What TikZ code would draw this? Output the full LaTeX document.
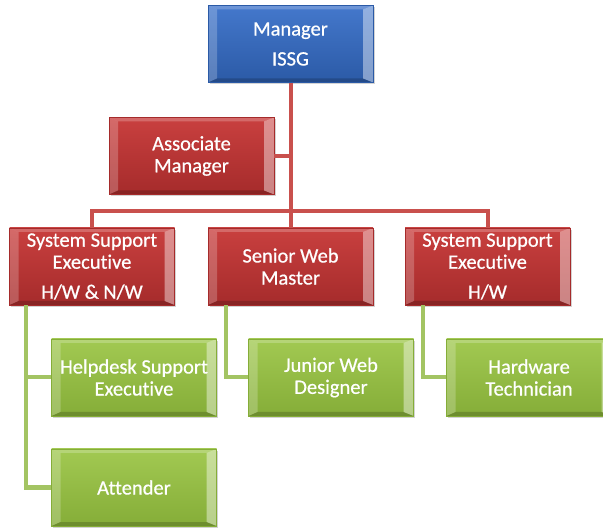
\documentclass[tikz,border=0pt]{standalone}
\usepackage{fontspec}
\setmainfont{Carlito}
\newfontfamily\boxfont[FakeBold=0.6,Ligatures={NoCommon}]{Carlito}
\usetikzlibrary{shadows,calc}
\definecolor{bluetop}{HTML}{4478CC}
\definecolor{bluebot}{HTML}{2B5AA6}
\definecolor{redtop}{HTML}{C9403F}
\definecolor{redbot}{HTML}{A52B2B}
\definecolor{greentop}{HTML}{A2C952}
\definecolor{greenbot}{HTML}{85AD38}
\definecolor{redline}{HTML}{C9504D}
\definecolor{greenline}{HTML}{A3C463}
\tikzset{
  bevel/.style={
    path picture={
      \path (path picture bounding box.north west) coordinate (pNW)
            (path picture bounding box.north east) coordinate (pNE)
            (path picture bounding box.south west) coordinate (pSW)
            (path picture bounding box.south east) coordinate (pSE);
      \fill[white,opacity=.22] (pNW) -- (pNE) -- ([xshift=-10pt,yshift=-4pt]pNE) -- ([xshift=9pt,yshift=-4pt]pNW) -- cycle;
      \fill[white,opacity=.22] (pNW) -- ([xshift=9pt,yshift=-4pt]pNW) -- ([xshift=9pt,yshift=4pt]pSW) -- (pSW) -- cycle;
      \fill[white,opacity=.42] (pNE) -- ([xshift=-10pt,yshift=-4pt]pNE) -- ([xshift=-10pt,yshift=4pt]pSE) -- (pSE) -- cycle;
      \fill[black,opacity=.18] (pSW) -- ([xshift=9pt,yshift=4pt]pSW) -- ([xshift=-10pt,yshift=4pt]pSE) -- (pSE) -- cycle;
    }},
  orgbox/.style={rectangle, minimum width=165pt, minimum height=77pt, inner sep=0pt,
    text=white, align=center, font=\boxfont\fontsize{20.5}{22}\selectfont,
    drop shadow={shadow xshift=1.5pt, shadow yshift=-2pt, opacity=.35}, bevel},
  bluebox/.style={orgbox, top color=bluetop, bottom color=bluebot, draw=bluebot, line width=.3pt},
  redbox/.style={orgbox, top color=redtop, bottom color=redbot, draw=redbot, line width=.3pt},
  greenbox/.style={orgbox, top color=greentop, bottom color=greenbot, draw=greenbot, line width=.3pt},
  redconn/.style={draw=redline, line width=4pt},
  greenconn/.style={draw=greenline, line width=4pt},
}
\begin{document}
\begin{tikzpicture}[x=1pt,y=-1pt]
\useasboundingbox (0,0) rectangle (603,529);
\clip (0,0) rectangle (603,529);
% nodes
\node[bluebox] (mgr) at (290.5,44) {Manager\\[8pt]ISSG};
\node[redbox] (assoc) at (191.5,156) {Associate\\Manager};
\node[redbox] (sse1) at (92,266.5) {System Support\\Executive\\[8pt]H/W \& N/W};
\node[redbox] (swm) at (290.5,266.5) {Senior Web\\Master};
\node[redbox] (sse2) at (487.5,266.5) {System Support\\Executive\\[8pt]H/W};
\node[greenbox] (help) at (134,377.5) {Helpdesk Support\\Executive};
\node[greenbox] (att) at (134,487.5) {Attender};
\node[greenbox] (jwd) at (331,377.5) {Junior Web\\Designer};
\node[greenbox] (hwt) at (529,377.5) {Hardware\\Technician};
\coordinate (bar) at (mgr.south |- 0,211);
% red connectors
\draw[redconn] (mgr.south) -- (swm.north);
\draw[redconn] (assoc.east) -- (assoc.east -| mgr.south);
\draw[redconn] (sse1.north) -- (sse1.north |- bar) -- (sse2.north |- bar) -- (sse2.north);
% green connectors
\draw[greenconn] ([xshift=17pt]sse1.south west) |- (help.west);
\draw[greenconn] ([xshift=17pt]sse1.south west) |- (att.west);
\draw[greenconn] ([xshift=18pt]swm.south west) |- (jwd.west);
\draw[greenconn] ([xshift=18pt]sse2.south west) |- (hwt.west);
\end{tikzpicture}
\end{document}
